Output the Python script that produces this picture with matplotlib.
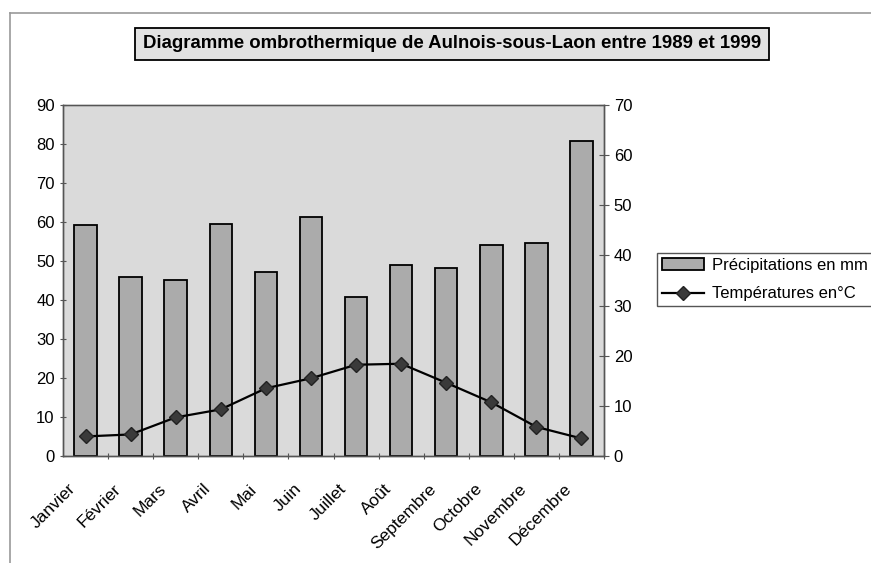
import matplotlib.pyplot as plt
import matplotlib.lines as mlines
import matplotlib.transforms as mtransforms
import numpy as np

plt.rcParams['font.family'] = ['Liberation Sans', 'DejaVu Sans']

mois = ['Janvier', 'Février', 'Mars', 'Avril', 'Mai', 'Juin', 'Juillet', 'Août',
        'Septembre', 'Octobre', 'Novembre', 'Décembre']
precip = [59.2, 46.0, 45.1, 59.6, 47.1, 61.4, 40.8, 49.1, 48.1, 54.2, 54.6, 80.8]
temp = [3.9, 4.3, 7.7, 9.3, 13.5, 15.5, 18.2, 18.4, 14.6, 10.7, 5.8, 3.5]

fig = plt.figure(figsize=(8.71, 5.63), dpi=100)
W, H = 871, 563
ax = fig.add_axes([63 / W, 1 - 456 / H, 541 / W, 351 / H])
ax2 = ax.twinx()

x = np.arange(len(mois))
b = ax.bar(x, precip, width=0.5, color='#ababab', edgecolor='black', linewidth=1.3,
           label='Précipitations en mm', zorder=2)
l, = ax2.plot(x, temp, color='black', lw=1.6, marker='D', markersize=7,
              markerfacecolor='#3a3a3a', markeredgecolor='#222222',
              label='Températures en°C', zorder=3)

ax.set_facecolor('#dadada')
ax.set_xlim(-0.5, 11.5)
ax.set_ylim(0, 90)
ax.set_yticks(np.arange(0, 91, 10))
ax2.set_ylim(0, 70)
ax2.set_yticks(np.arange(0, 71, 10))

ax.set_xticks(x + 0.5, minor=False)
ax.set_xticklabels([])
ax.set_xticks(x, minor=True)
ax.set_xticklabels(mois, minor=True, rotation=45, ha='right', va='center',
                   rotation_mode='anchor', fontsize=12.5)
ax.tick_params(axis='x', which='minor', length=0, pad=22)
ax.tick_params(axis='x', which='major', length=5, direction='inout', color='#555555')
ax.tick_params(axis='y', length=5, direction='inout', labelsize=12, color='#555555')
ax2.tick_params(axis='y', length=7, direction='inout', labelsize=12, color='#555555')

# decaler les etiquettes des mois vers la gauche
offset = mtransforms.ScaledTranslation(-12 / 100, 0, fig.dpi_scale_trans)
for lab in ax.get_xticklabels(minor=True):
    lab.set_transform(lab.get_transform() + offset)

for a in (ax, ax2):
    for s in a.spines.values():
        s.set_color('#555555')
        s.set_linewidth(1.0)
ax.spines['top'].set_color('#888888')

fig.text(452 / W, 1 - 44 / H, 'Diagramme ombrothermique de Aulnois-sous-Laon entre 1989 et 1999',
         ha='center', va='center', fontsize=13.4, fontweight='bold',
         bbox=dict(boxstyle='square,pad=0.42', facecolor='#e2e2e2', edgecolor='black', linewidth=1.3))

fig.legend([b, l], ['Précipitations en mm', 'Températures en°C'], loc='upper left',
           bbox_to_anchor=(657 / W, 1 - 253 / H), fontsize=12, frameon=True, fancybox=False,
           edgecolor='#555555', framealpha=1, borderpad=0.3, handlelength=2.5,
           handletextpad=0.5, labelspacing=0.8, borderaxespad=0)

# cadre du graphique
fig.add_artist(mlines.Line2D([10 / W, 10 / W], [0, 1 - 13 / H], color='#999999', lw=1.2))
fig.add_artist(mlines.Line2D([10 / W, 1], [1 - 13 / H, 1 - 13 / H], color='#999999', lw=1.2))

fig.savefig('out.png', dpi=100)
